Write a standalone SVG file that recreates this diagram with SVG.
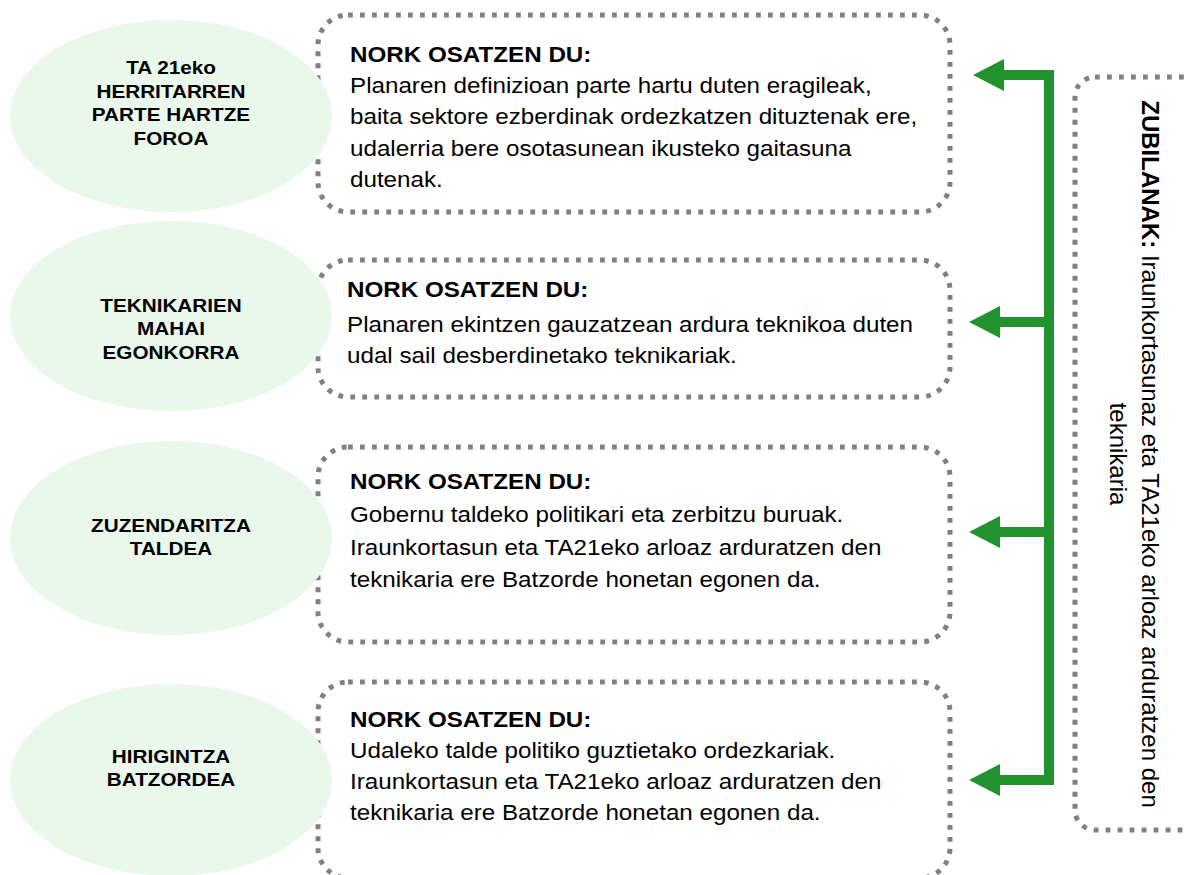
<svg xmlns="http://www.w3.org/2000/svg" width="1187" height="875" viewBox="0 0 1187 875">
<style>
.box{fill:#ffffff;stroke:#808080;stroke-width:5;stroke-dasharray:4.8 7.2}
.ell{fill:#EAF8EC}
.et{font-family:"Liberation Sans",Arial,sans-serif;font-weight:bold;font-size:18.5px;fill:#000;text-anchor:middle}
.bt{font-family:"Liberation Sans",Arial,sans-serif;font-size:22px;fill:#000}
.bh{font-weight:bold}
.conn{stroke:#22922F;stroke-width:10;fill:none}
.zt{font-family:"Liberation Sans",Arial,sans-serif;font-size:24px;fill:#000;text-anchor:middle}
</style>
<defs>
<marker id="ah" markerUnits="userSpaceOnUse" markerWidth="32" markerHeight="34" refX="0" refY="16" orient="auto" viewBox="0 0 32 32">
<path d="M0,0 L31,16 L0,32 Z" fill="#22922F"/>
</marker>
</defs>
<rect width="1187" height="875" fill="#ffffff"/>

<g id="box1">
<rect class="box" x="318" y="15" width="632" height="197" rx="30"/>
<g transform="translate(350,0) scale(1.1,1)">
<text class="bt bh" x="0" y="62">NORK OSATZEN DU:</text>
<text class="bt" x="0" y="93">Planaren definizioan parte hartu duten eragileak,</text>
<text class="bt" x="0" y="124.5">baita sektore ezberdinak ordezkatzen dituztenak ere,</text>
<text class="bt" x="0" y="156">udalerria bere osotasunean ikusteko gaitasuna</text>
<text class="bt" x="0" y="187.5">dutenak.</text>
</g>
</g>

<g id="box2">
<rect class="box" x="318" y="260" width="632" height="137" rx="30"/>
<g transform="translate(347,0) scale(1.1,1)">
<text class="bt bh" x="0" y="297">NORK OSATZEN DU:</text>
<text class="bt" x="0" y="332">Planaren ekintzen gauzatzean ardura teknikoa duten</text>
<text class="bt" x="0" y="363">udal sail desberdinetako teknikariak.</text>
</g>
</g>

<g id="box3">
<rect class="box" x="318" y="447" width="632" height="195" rx="30"/>
<g transform="translate(350,0) scale(1.1,1)">
<text class="bt bh" x="0" y="489">NORK OSATZEN DU:</text>
<text class="bt" x="0" y="522">Gobernu taldeko politikari eta zerbitzu buruak.</text>
<text class="bt" x="0" y="555">Iraunkortasun eta TA21eko arloaz arduratzen den</text>
<text class="bt" x="0" y="587">teknikaria ere Batzorde honetan egonen da.</text>
</g>
</g>

<g id="box4">
<rect class="box" x="318" y="682" width="632" height="196" rx="30"/>
<g transform="translate(350,0) scale(1.1,1)">
<text class="bt bh" x="0" y="727">NORK OSATZEN DU:</text>
<text class="bt" x="0" y="758">Udaleko talde politiko guztietako ordezkariak.</text>
<text class="bt" x="0" y="789">Iraunkortasun eta TA21eko arloaz arduratzen den</text>
<text class="bt" x="0" y="820">teknikaria ere Batzorde honetan egonen da.</text>
</g>
</g>

<g id="ellipse1">
<ellipse class="ell" cx="171" cy="116" rx="161" ry="96"/>
<g transform="translate(171,0) scale(1.12,1)">
<text class="et" x="0" y="74">TA 21eko</text>
<text class="et" x="0" y="98">HERRITARREN</text>
<text class="et" x="0" y="121.5">PARTE HARTZE</text>
<text class="et" x="0" y="145">FOROA</text>
</g>
</g>

<g id="ellipse2">
<ellipse class="ell" cx="171" cy="316" rx="161" ry="95"/>
<g transform="translate(171,0) scale(1.12,1)">
<text class="et" x="0" y="312">TEKNIKARIEN</text>
<text class="et" x="0" y="335.5">MAHAI</text>
<text class="et" x="0" y="359">EGONKORRA</text>
</g>
</g>

<g id="ellipse3">
<ellipse class="ell" cx="171" cy="538" rx="161" ry="97"/>
<g transform="translate(171,0) scale(1.12,1)">
<text class="et" x="0" y="532">ZUZENDARITZA</text>
<text class="et" x="0" y="555">TALDEA</text>
</g>
</g>

<g id="ellipse4">
<ellipse class="ell" cx="171" cy="780" rx="161" ry="96"/>
<g transform="translate(171,0) scale(1.12,1)">
<text class="et" x="0" y="763">HIRIGINTZA</text>
<text class="et" x="0" y="786">BATZORDEA</text>
</g>
</g>

<g id="zubilanak">
<rect class="box" x="1075" y="77" width="140" height="753" rx="20"/>
<text class="zt" transform="translate(1142,454) rotate(90)"><tspan x="0" y="0"><tspan font-weight="bold">ZUBILANAK:</tspan> Iraunkortasunaz eta TA21eko arloaz arduratzen den</tspan><tspan x="0" y="32">teknikaria</tspan></text>
</g>

<g id="connectors">
<path class="conn" d="M1049,70 V785"/>
<path class="conn" d="M1054,75 H1004" marker-end="url(#ah)"/>
<path class="conn" d="M1049,322 H1000" marker-end="url(#ah)"/>
<path class="conn" d="M1049,532 H1000" marker-end="url(#ah)"/>
<path class="conn" d="M1054,780 H1000" marker-end="url(#ah)"/>
</g>
</svg>
